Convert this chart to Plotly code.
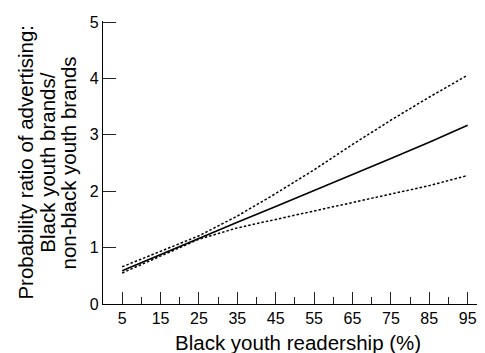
import plotly.graph_objects as go

readership = [5, 15, 25, 35, 45, 55, 65, 75, 85, 95]
ratio = [0.59, 0.88, 1.17, 1.45, 1.73, 2.01, 2.29, 2.58, 2.87, 3.17]
upper_ci = [0.66, 0.93, 1.21, 1.56, 1.96, 2.38, 2.83, 3.26, 3.67, 4.06]
lower_ci = [0.55, 0.85, 1.15, 1.35, 1.50, 1.64, 1.79, 1.94, 2.10, 2.28]

x_ticks = [5, 15, 25, 35, 45, 55, 65, 75, 85, 95]
x_minor = [10, 20, 30, 40, 50, 60, 70, 80, 90]
y_ticks = [0, 1, 2, 3, 4, 5]

x_title = "Black youth readership (%)"
y_title_lines = ["Probability ratio of advertising:", "Black youth brands/", "non-black youth brands"]

font = "Liberation Sans, Arial, sans-serif"

fig = go.Figure()
for ys in (upper_ci, lower_ci):
    fig.add_trace(go.Scatter(x=readership, y=ys, mode="lines",
                             line=dict(color="black", width=1.5, dash="2.5px,2px"),
                             showlegend=False, hoverinfo="skip"))
fig.add_trace(go.Scatter(x=readership, y=ratio, mode="lines",
                         line=dict(color="black", width=1.6), showlegend=False))

# y title, three centred lines
for xpos, line in zip([-0.205, -0.147, -0.0895], y_title_lines):
    fig.add_annotation(text=line, xref="paper", yref="paper", x=xpos, y=0.5,
                       xanchor="center", yanchor="middle", textangle=-90, showarrow=False,
                       font=dict(size=20.5, family=font, color="black"))
fig.add_annotation(text=x_title, xref="paper", yref="paper", x=0.512, y=-0.135,
                   xanchor="center", yanchor="middle", showarrow=False,
                   font=dict(size=20.5, family=font, color="black"))

fig.update_layout(
    width=477, height=345,
    margin=dict(l=95, r=2, t=13, b=49),
    plot_bgcolor="white", paper_bgcolor="white",
    font=dict(family=font, color="black", size=16),
    xaxis=dict(range=[0, 99], tickmode="array", tickvals=x_ticks, ticktext=[str(v) for v in x_ticks],
               ticks="inside", ticklen=12, tickwidth=1.2, tickcolor="#222",
               showline=True, linecolor="black", linewidth=1.3,
               showgrid=False, zeroline=False, ticklabeloverflow="allow",
               minor=dict(tickvals=x_minor, ticks="inside",
                          ticklen=7, tickwidth=1.2, tickcolor="#222"),
               tickfont=dict(size=16)),
    yaxis=dict(range=[0, 5.02], tickmode="array", tickvals=y_ticks, ticktext=[str(v) for v in y_ticks],
               ticks="inside", ticklen=13, tickwidth=1.2, tickcolor="#222",
               showline=True, linecolor="black", linewidth=1.3,
               showgrid=False, zeroline=False, ticklabeloverflow="allow",
               tickfont=dict(size=16)),
)

fig.write_html("out.html")
